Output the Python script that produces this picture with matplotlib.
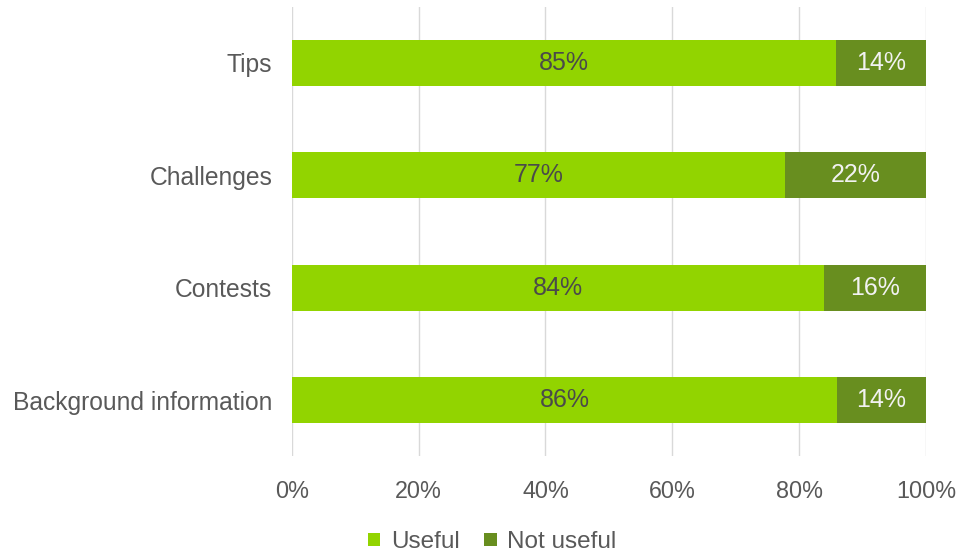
import matplotlib.pyplot as plt
import numpy as np

plt.rcParams['font.family'] = ['Liberation Sans', 'DejaVu Sans']

categories = ['Tips', 'Challenges', 'Contests', 'Background information']
useful = [85, 77, 84, 86]
not_useful = [14, 22, 16, 14]

light = '#92d400'
dark = '#688e1f'

useful = np.array(useful, dtype=float)
not_useful = np.array(not_useful, dtype=float)
total = useful + not_useful
# 100% stacked: each row scaled to its own total
u_share = useful / total * 100
n_share = not_useful / total * 100

fig = plt.figure(figsize=(9.6, 5.54), dpi=100)
ax = fig.add_axes([0.304, 0.176, 0.6605, 0.812])

y = np.arange(len(categories))[::-1]
ax.barh(y, u_share, height=0.41, color=light, label='Useful', zorder=3)
ax.barh(y, n_share, left=u_share, height=0.41, color=dark, label='Not useful', zorder=3)

for yi, us, ns, uv, nv in zip(y, u_share, n_share, useful, not_useful):
    ax.text(us / 2, yi, '%d%%' % uv, ha='center', va='center',
            fontsize=18, color='#4a4a4a', zorder=4)
    ax.text(us + ns / 2, yi, '%d%%' % nv, ha='center', va='center',
            fontsize=18, color='#f2f2f2', zorder=4)

ax.set_xlim(0, 100)
ax.set_ylim(-0.5, 3.5)
ax.set_xticks(np.arange(0, 101, 20))
ax.set_xticklabels(['%d%%' % v for v in range(0, 101, 20)])
ax.set_yticks(y)
ax.set_yticklabels(categories)
ax.tick_params(axis='both', length=0, labelcolor='#595959')
ax.tick_params(axis='x', pad=17, labelsize=16.8)
ax.tick_params(axis='y', pad=14, labelsize=17.7)
ax.grid(axis='x', color='#d9d9d9', linewidth=1, zorder=0)
for s in ax.spines.values():
    s.set_visible(False)

leg = fig.legend(loc='lower center', bbox_to_anchor=(0.513, -0.038), ncol=2,
                 frameon=False, fontsize=17.5, handlelength=0.5, handleheight=0.5,
                 handletextpad=0.45, columnspacing=1.0)
for t in leg.get_texts():
    t.set_color('#595959')

fig.savefig('out.png', dpi=100)
